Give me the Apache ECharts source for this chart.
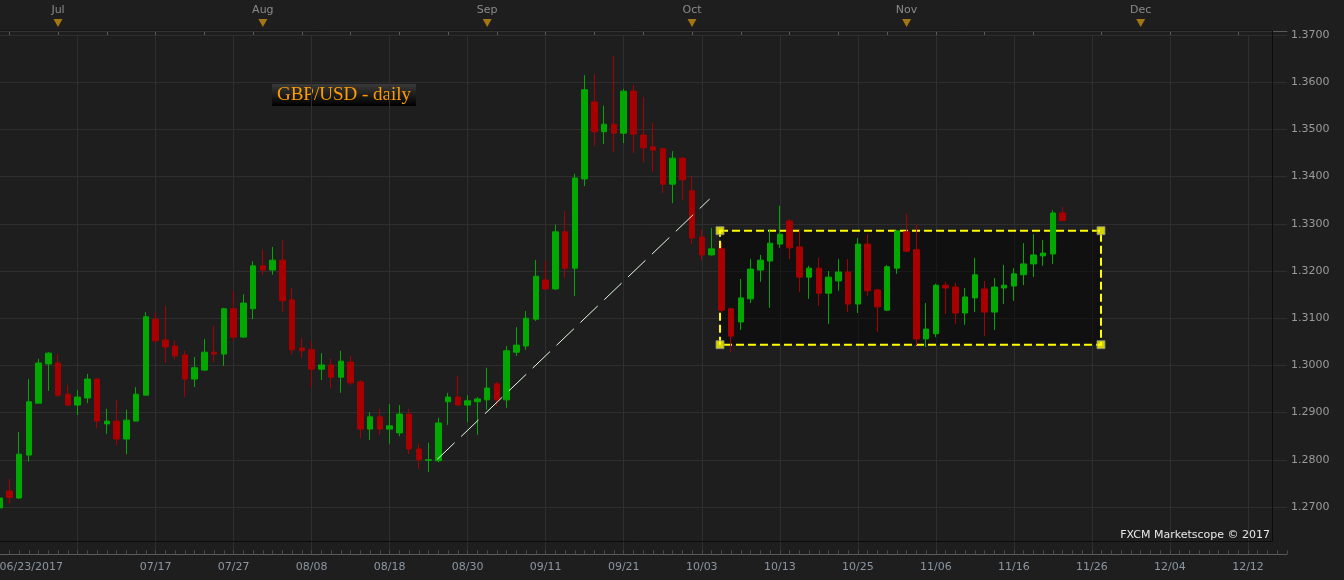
<!DOCTYPE html>
<html>
<head>
<meta charset="utf-8">
<title>GBP/USD - daily</title>
<script src="https://cdn.jsdelivr.net/npm/echarts@6/dist/echarts.min.js"></script>
<style>
  html, body { margin: 0; padding: 0; background: #1e1e1e; }
  #chart { width: 1344px; height: 580px; }
</style>
</head>
<body>
<div id="chart"></div>
<script>
// trading days, then the calendar days the platform projects after the last candle
const dates = [
  "06/23", "06/26", "06/27", "06/28", "06/29", "06/30",
  "07/03", "07/04", "07/05", "07/06", "07/07", "07/10", "07/11", "07/12", "07/13", "07/14",
  "07/17", "07/18", "07/19", "07/20", "07/21", "07/24", "07/25", "07/26", "07/27", "07/28", "07/31",
  "08/01", "08/02", "08/03", "08/04", "08/07", "08/08", "08/09", "08/10", "08/11",
  "08/14", "08/15", "08/16", "08/17", "08/18", "08/21", "08/22", "08/23", "08/24", "08/25",
  "08/28", "08/29", "08/30", "08/31",
  "09/01", "09/04", "09/05", "09/06", "09/07", "09/08", "09/11", "09/12", "09/13", "09/14", "09/15",
  "09/18", "09/19", "09/20", "09/21", "09/22", "09/25", "09/26", "09/27", "09/28", "09/29",
  "10/02", "10/03", "10/04", "10/05", "10/06", "10/09", "10/10", "10/11", "10/12", "10/13",
  "10/16", "10/17", "10/18", "10/19", "10/20", "10/23", "10/24", "10/25", "10/26", "10/27",
  "10/30", "10/31",
  "11/01", "11/02", "11/03", "11/06", "11/07", "11/08", "11/09", "11/10",
  "11/13", "11/14", "11/15", "11/16", "11/17", "11/20", "11/21", "11/22", "11/23",
  "11/24", "11/25", "11/26", "11/27", "11/28", "11/29", "11/30",
  "12/01", "12/02", "12/03", "12/04", "12/05", "12/06", "12/07", "12/08", "12/09", "12/10",
  "12/11", "12/12", "12/13", "12/14", "12/15", "12/16"
];

const opens = [
  1.2698, 1.2734, 1.2719, 1.2810, 1.2920, 1.3003, 1.3005, 1.2939, 1.2916, 1.2931,
  1.2971, 1.2876, 1.2882, 1.2844, 1.2882, 1.2937, 1.3098, 1.3054, 1.3041, 1.3022,
  1.2971, 1.2990, 1.3028, 1.3024, 1.3120, 1.3060, 1.3120, 1.3211, 1.3202, 1.3223,
  1.3139, 1.3037, 1.3033, 1.2992, 1.3001, 1.2975, 1.3007, 1.2965, 1.2865, 1.2891,
  1.2865, 1.2857, 1.2897, 1.2823, 1.2799, 1.2798, 1.2923, 1.2933, 1.2916, 1.2923,
  1.2927, 1.2961, 1.2927, 1.3028, 1.3041, 1.3098, 1.3181, 1.3162, 1.3283, 1.3206,
  1.3395, 1.3558, 1.3495, 1.3511, 1.3492, 1.3581, 1.3488, 1.3463, 1.3459, 1.3384,
  1.3439, 1.3370, 1.3272, 1.3234, 1.3247, 1.3120, 1.3092, 1.3141, 1.3202, 1.3221,
  1.3257, 1.3306, 1.3251, 1.3187, 1.3206, 1.3153, 1.3179, 1.3198, 1.3130, 1.3257,
  1.3160, 1.3117, 1.3206, 1.3283, 1.3245, 1.3056, 1.3067, 1.3170, 1.3166, 1.3111,
  1.3143, 1.3162, 1.3113, 1.3164, 1.3168, 1.3192, 1.3215, 1.3232, 1.3236, 1.3323
];
const closes = [
  1.2719, 1.2720, 1.2812, 1.2923, 1.3005, 1.3026, 1.2937, 1.2916, 1.2933, 1.2971,
  1.2882, 1.2882, 1.2844, 1.2884, 1.2939, 1.3103, 1.3052, 1.3039, 1.3020, 1.2971,
  1.2995, 1.3028, 1.3024, 1.3120, 1.3060, 1.3132, 1.3211, 1.3202, 1.3223, 1.3137,
  1.3033, 1.3031, 1.2992, 1.3001, 1.2975, 1.3009, 1.2963, 1.2865, 1.2891, 1.2865,
  1.2872, 1.2897, 1.2823, 1.2800, 1.2800, 1.2878, 1.2933, 1.2916, 1.2925, 1.2929,
  1.2952, 1.2927, 1.3031, 1.3043, 1.3100, 1.3189, 1.3162, 1.3283, 1.3206, 1.3397,
  1.3584, 1.3495, 1.3511, 1.3492, 1.3581, 1.3490, 1.3461, 1.3456, 1.3384, 1.3439,
  1.3393, 1.3270, 1.3234, 1.3247, 1.3117, 1.3062, 1.3143, 1.3204, 1.3223, 1.3259,
  1.3278, 1.3249, 1.3187, 1.3206, 1.3153, 1.3187, 1.3198, 1.3130, 1.3257, 1.3158,
  1.3124, 1.3209, 1.3285, 1.3242, 1.3056, 1.3077, 1.3170, 1.3164, 1.3111, 1.3145,
  1.3192, 1.3113, 1.3166, 1.3170, 1.3194, 1.3215, 1.3234, 1.3238, 1.3323, 1.33069
];
const lows = [
  1.2694, 1.2707, 1.2717, 1.2796, 1.2920, 1.2946, 1.2933, 1.2914, 1.2895, 1.2920,
  1.2867, 1.2855, 1.2831, 1.2812, 1.2882, 1.2937, 1.3048, 1.3005, 1.3012, 1.2933,
  1.2954, 1.2988, 1.3007, 1.2999, 1.3052, 1.3058, 1.3098, 1.3192, 1.3192, 1.3113,
  1.3024, 1.3016, 1.2954, 1.2969, 1.2952, 1.2942, 1.2959, 1.2846, 1.2842, 1.2853,
  1.2834, 1.2850, 1.2812, 1.2781, 1.2774, 1.2795, 1.2874, 1.2916, 1.2880, 1.2853,
  1.2906, 1.2914, 1.2910, 1.3020, 1.3033, 1.3094, 1.3160, 1.3160, 1.3185, 1.3147,
  1.3380, 1.3465, 1.3469, 1.3452, 1.3471, 1.3450, 1.3431, 1.3410, 1.3365, 1.3344,
  1.3350, 1.3257, 1.3223, 1.3233, 1.3113, 1.3028, 1.3075, 1.3132, 1.3177, 1.3122,
  1.3249, 1.3225, 1.3156, 1.3141, 1.3126, 1.3088, 1.3158, 1.3113, 1.3111, 1.3147,
  1.3071, 1.3115, 1.3194, 1.3240, 1.3043, 1.3039, 1.3060, 1.3109, 1.3088, 1.3086,
  1.3113, 1.3062, 1.3075, 1.3130, 1.3137, 1.3170, 1.3187, 1.3211, 1.3215, 1.3306
];
const highs = [
  1.2724, 1.2759, 1.2859, 1.2971, 1.3014, 1.3028, 1.3024, 1.2959, 1.2948, 1.2982,
  1.2973, 1.2908, 1.2927, 1.2906, 1.2954, 1.3113, 1.3111, 1.3126, 1.3052, 1.3031,
  1.3018, 1.3056, 1.3084, 1.3122, 1.3158, 1.3151, 1.3221, 1.3245, 1.3251, 1.3266,
  1.3164, 1.3058, 1.3052, 1.3026, 1.3014, 1.3031, 1.3020, 1.2969, 1.2901, 1.2908,
  1.2918, 1.2916, 1.2908, 1.2834, 1.2836, 1.2889, 1.2942, 1.2978, 1.2937, 1.2933,
  1.2995, 1.2965, 1.3041, 1.3081, 1.3115, 1.3223, 1.3221, 1.3298, 1.3327, 1.3406,
  1.3615, 1.3617, 1.3550, 1.3656, 1.3586, 1.3594, 1.3569, 1.3514, 1.3461, 1.3454,
  1.3442, 1.3401, 1.3287, 1.3291, 1.3260, 1.3122, 1.3183, 1.3225, 1.3234, 1.3289,
  1.3338, 1.3310, 1.3287, 1.3211, 1.3228, 1.3200, 1.3225, 1.3225, 1.3270, 1.3278,
  1.3162, 1.3213, 1.3287, 1.3321, 1.3298, 1.3132, 1.3173, 1.3177, 1.3175, 1.3164,
  1.3228, 1.3179, 1.3185, 1.3213, 1.3206, 1.3259, 1.3278, 1.3266, 1.3329, 1.3336
];

const lastPrice = 1.33069;
// drawings: [category position, price]
const trendLine = [[44.88, 1.2801], [72.81, 1.33526]];
const boxX = [73.87, 112.93];
const boxY = [1.30439, 1.32854];
const monthNames = ["Jan", "Feb", "Mar", "Apr", "May", "Jun", "Jul", "Aug", "Sep", "Oct", "Nov", "Dec"];

const lastIndex = dates.length - 1;
const month = (i) => parseInt(dates[i].slice(0, 2), 10);
const isMonday = (i) => {
  const d = new Date(2017, month(i) - 1, parseInt(dates[i].slice(3), 10));
  return d.getDay() === 1;
};
const isMonthStart = (i) => i > 0 && month(i) !== month(i - 1);
const monthStarts = dates.map((d, i) => i).filter(isMonthStart);

const candles = opens.map((o, i) => [o, closes[i], lows[i], highs[i]]);
const corners = [
  [boxX[0], boxY[1]], [boxX[1], boxY[1]],
  [boxX[0], boxY[0]], [boxX[1], boxY[0]]
];

const font = "DejaVu Sans";
const chart = echarts.init(document.getElementById("chart"));

chart.setOption({
  backgroundColor: "#1e1e1e",
  animation: false,
  grid: [
    { left: -0.5, top: 35, width: 1287.5, height: 519.2, outerBoundsMode: "none", containLabel: false },
    { left: -0.5, top: 18, width: 1287.5, height: 13, outerBoundsMode: "none", containLabel: false }
  ],
  xAxis: [
    {
      type: "category",
      gridIndex: 0,
      data: dates,
      boundaryGap: false,
      axisLine: { lineStyle: { color: "#5a5a5a" } },
      axisTick: { inside: true, length: 4, interval: 0, lineStyle: { color: "#4a4a4a" } },
      axisLabel: {
        interval: (i) => i % 8 === 0 && i !== 8,
        formatter: (v, i) => (i === 0 ? v + "/2017" : v),
        color: "#8a96a3",
        fontSize: 11,
        fontFamily: font,
        margin: 7,
        alignMinLabel: "left"
      },
      splitLine: {
        show: true,
        interval: (i) => i % 8 === 0,
        lineStyle: { color: "#2e2e2e" }
      }
    },
    { type: "value", gridIndex: 0, min: 0, max: lastIndex, show: false },
    {
      type: "category",
      gridIndex: 1,
      data: dates,
      position: "top",
      boundaryGap: false,
      axisLine: { lineStyle: { color: "#5a5a5a" } },
      axisTick: { inside: true, length: 4, interval: (i) => isMonday(i), lineStyle: { color: "#5a5a5a" } },
      axisLabel: {
        interval: (i) => isMonthStart(i),
        formatter: (v) => monthNames[parseInt(v.slice(0, 2), 10) - 1],
        color: "#8a8a8a",
        fontSize: 11,
        fontFamily: font,
        margin: 2
      },
      splitLine: { show: false }
    }
  ],
  yAxis: [
    {
      type: "value",
      gridIndex: 0,
      position: "right",
      min: 1.26,
      max: 1.37,
      interval: 0.01,
      axisLine: { show: true, lineStyle: { color: "#5a5a5a" } },
      axisTick: { show: true, inside: true, length: 15, lineStyle: { color: "#4a4a4a" } },
      minorTick: { show: true, splitNumber: 10, length: 5, lineStyle: { color: "#4a4a4a" } },
      axisLabel: {
        formatter: (v) => v.toFixed(4),
        showMinLabel: false,
        color: "#9a9a9a",
        fontSize: 11,
        fontFamily: font,
        margin: 4
      },
      splitLine: { lineStyle: { color: "#2e2e2e" } }
    },
    { type: "value", gridIndex: 1, min: 0, max: 1, show: false }
  ],
  series: [
    {
      name: "box",
      type: "line",
      xAxisIndex: 1,
      yAxisIndex: 0,
      data: [],
      z: 1,
      markArea: {
        silent: true,
        z: 1,
        itemStyle: {
          color: "rgba(0,0,0,0.45)",
          borderColor: "#ffff00",
          borderWidth: 2,
          borderType: [8, 4]
        },
        data: [[{ coord: [boxX[0], boxY[1]] }, { coord: [boxX[1], boxY[0]] }]]
      }
    },
    {
      name: "GBP/USD",
      type: "candlestick",
      xAxisIndex: 0,
      yAxisIndex: 0,
      data: candles,
      barWidth: 6,
      z: 2,
      itemStyle: {
        color: "#00a800",
        color0: "#a80000",
        borderColor: "#00a800",
        borderColor0: "#a80000",
        borderWidth: 1
      },
      markLine: {
        silent: true,
        symbol: ["none", "none"],
        lineStyle: { opacity: 0 },
        label: {
          position: "end",
          distance: 1,
          formatter: () => lastPrice.toFixed(5),
          backgroundColor: "#3f9cf2",
          color: "#000",
          fontSize: 11,
          fontFamily: font,
          padding: [3, 3, 2, 3]
        },
        data: [{ yAxis: lastPrice }]
      }
    },
    {
      name: "trend",
      type: "line",
      xAxisIndex: 1,
      yAxisIndex: 0,
      data: trendLine,
      showSymbol: false,
      silent: true,
      z: 3,
      lineStyle: { color: "#e4fbe4", width: 1, type: [24, 9] }
    },
    {
      name: "handles",
      type: "scatter",
      xAxisIndex: 1,
      yAxisIndex: 0,
      data: corners,
      symbol: "rect",
      symbolSize: 8,
      silent: true,
      z: 4,
      itemStyle: { color: "#ffff00", borderColor: "#8a8a8a", borderWidth: 1 }
    },
    {
      name: "months",
      type: "scatter",
      xAxisIndex: 2,
      yAxisIndex: 1,
      data: monthStarts.map((i) => [i, 0.62]),
      symbol: "triangle",
      symbolRotate: 180,
      symbolSize: [9, 8],
      silent: true,
      clip: false,
      itemStyle: { color: "#c48c12" }
    }
  ],
  graphic: [
    {
      type: "rect",
      silent: true,
      z: 10,
      shape: { x: -1, y: 31, width: 1273.5, height: 510.5 },
      style: { fill: "none", stroke: "#0c0c0c", lineWidth: 1 }
    },
    {
      type: "group",
      left: 272,
      top: 84,
      z: 10,
      children: [
        {
          type: "rect",
          shape: { x: 0, y: 0, width: 144, height: 22 },
          style: {
            fill: new echarts.graphic.LinearGradient(0, 0, 0, 1, [
              { offset: 0, color: "#3a3a3a" },
              { offset: 1, color: "#000000" }
            ])
          }
        },
        {
          type: "text",
          style: {
            x: 72,
            y: 11.5,
            text: "GBP/USD - daily",
            fill: "#ff9d00",
            font: '19px "Liberation Serif"',
            textAlign: "center",
            textVerticalAlign: "middle"
          }
        }
      ]
    },
    {
      type: "text",
      z: 10,
      style: {
        x: 1270,
        y: 535,
        text: "FXCM Marketscope \u00a9 2017",
        fill: "#e8e8e8",
        font: '11px "DejaVu Sans"',
        textAlign: "right",
        textVerticalAlign: "middle"
      }
    }
  ]
});
</script>
</body>
</html>
